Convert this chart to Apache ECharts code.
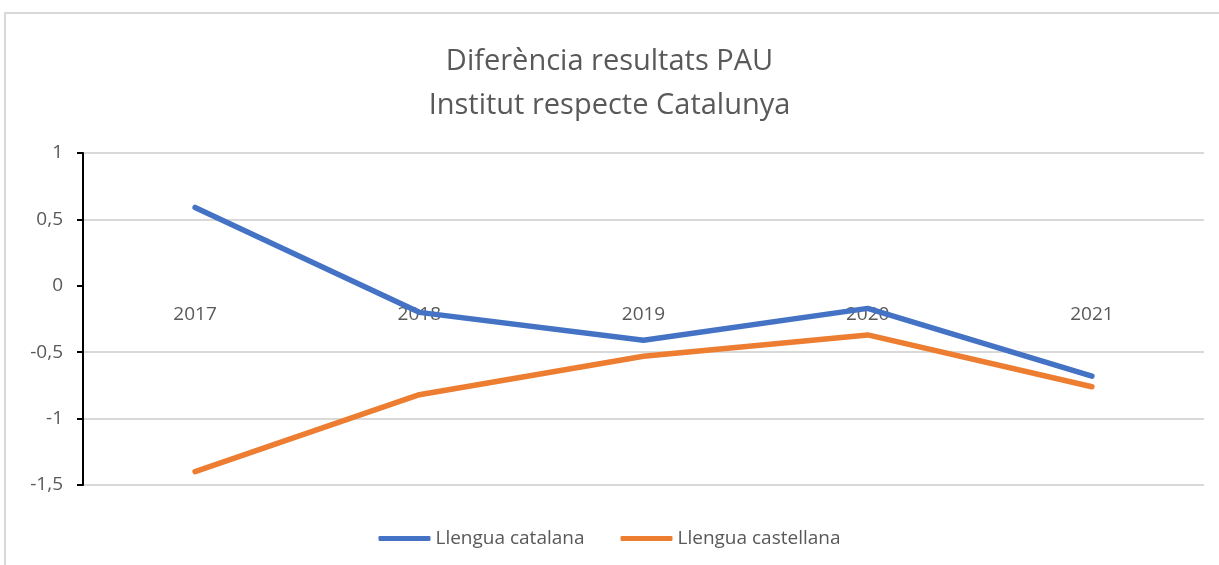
<!DOCTYPE html>
<html>
<head>
<meta charset="utf-8">
<script src="https://cdn.jsdelivr.net/npm/echarts@6/dist/echarts.min.js"></script>
<style>
  html, body { margin: 0; padding: 0; background: #fff; }
  #frame {
    position: absolute; left: 4px; top: 12px; width: 1230px; height: 570px;
    border-left: 2px solid #d9d9d9; border-top: 2px solid #d9d9d9;
  }
  #main { position: absolute; left: 0; top: 0; width: 1219px; height: 565px; }
</style>
</head>
<body>
<div id="frame"></div>
<div id="main"></div>
<script>
const years = ['2017', '2018', '2019', '2020', '2021'];
const catalana = [0.59, -0.20, -0.41, -0.17, -0.68];
const castellana = [-1.40, -0.82, -0.53, -0.37, -0.76];
const font = 'Open Sans';

const myChart = echarts.init(document.getElementById('main'));

// gridline at 0 is hidden like the original
const gridColors = ['#d9d9d9', '#d9d9d9', '#d9d9d9', 'rgba(0,0,0,0)', '#d9d9d9', '#d9d9d9'];

const option = {
  backgroundColor: 'transparent',
  title: {
    text: 'Diferència resultats PAU\nInstitut respecte Catalunya',
    left: 'center',
    top: 35,
    textStyle: {
      color: '#595959',
      fontFamily: font,
      fontWeight: 'normal',
      fontSize: 29,
      lineHeight: 44
    }
  },
  legend: {
    top: 524,
    left: 'center',
    icon: 'roundRect',
    itemWidth: 52,
    itemHeight: 5,
    itemGap: 36,
    textStyle: { color: '#595959', fontFamily: font, fontSize: 19 }
  },
  grid: { left: 83, right: 15, top: 153, bottom: 80 },
  xAxis: {
    type: 'category',
    data: years,
    // category labels sit just under the zero line (332px plot, 0 is 200px above bottom)
    offset: -200,
    axisLine: { show: false, onZero: false },
    axisTick: { show: false },
    axisLabel: { color: '#595959', fontFamily: font, fontSize: 19, margin: 20 },
    splitLine: { show: false }
  },
  yAxis: {
    type: 'value',
    min: -1.5,
    max: 1,
    interval: 0.5,
    axisLine: { show: true, lineStyle: { color: '#000', width: 2 } },
    axisTick: { show: true, length: 6, lineStyle: { color: '#000', width: 2 } },
    axisLabel: {
      color: '#595959', fontFamily: font, fontSize: 19, margin: 20,
      formatter: v => String(v).replace('.', ',')
    },
    splitLine: { lineStyle: { color: gridColors, width: 2 } }
  },
  series: [
    {
      name: 'Llengua catalana',
      type: 'line',
      data: catalana,
      symbol: 'none',
      z: 3,
      lineStyle: { color: '#4472C4', width: 5.5, cap: 'round' },
      itemStyle: { color: '#4472C4' }
    },
    {
      name: 'Llengua castellana',
      type: 'line',
      data: castellana,
      symbol: 'none',
      lineStyle: { color: '#ED7D31', width: 5.5, cap: 'round' },
      itemStyle: { color: '#ED7D31' }
    }
  ]
};

myChart.setOption(option);
</script>
</body>
</html>
